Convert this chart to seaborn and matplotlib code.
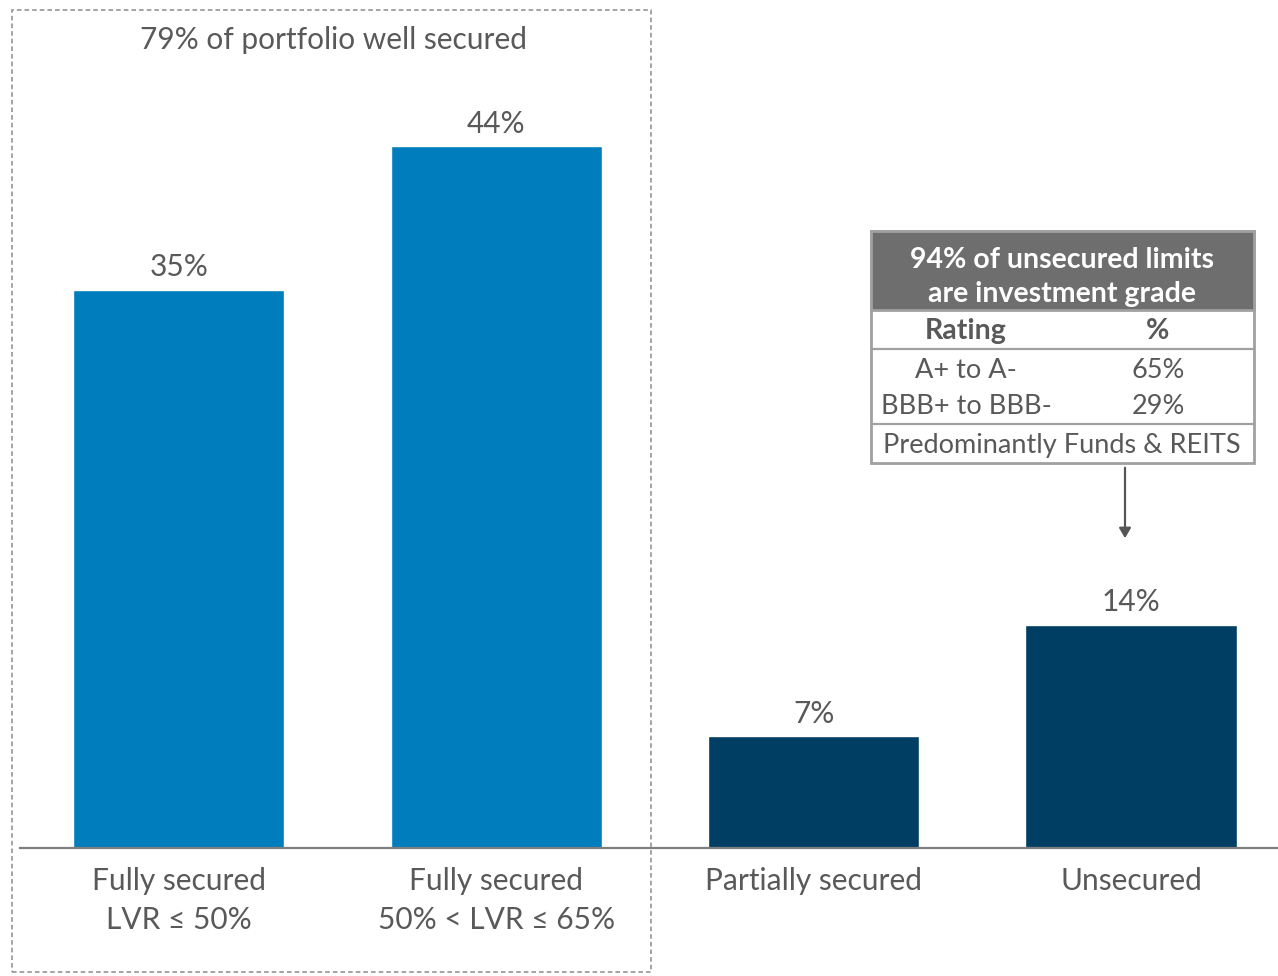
import matplotlib
matplotlib.use("Agg")
import matplotlib.pyplot as plt
import matplotlib.patches as mpatches
import seaborn as sns
import pandas as pd

categories = ["Fully secured\nLVR \u2264 50%", "Fully secured\n50% < LVR \u2264 65%",
              "Partially secured", "Unsecured"]
values = [35, 44, 7, 14]
bar_colors = ["#007dbd", "#007dbd", "#003f63", "#003f63"]

box_title = "79% of portfolio well secured"
table_header = "94% of unsecured limits\nare investment grade"
table_cols = ["Rating", "%"]
table_ratings = ["A+ to A-", "BBB+ to BBB-"]
table_pcts = ["65%", "29%"]
table_footer = "Predominantly Funds & REITS"

sns.set_theme(style="white")
plt.rcParams["font.family"] = ["Lato", "DejaVu Sans"]
text_grey = "#595959"

W, H = 1278, 976
fig = plt.figure(figsize=(W / 100, H / 100), dpi=100)
ax = fig.add_axes([20 / W, 128 / H, 1 - 20 / W, 848 / H])

df = pd.DataFrame({"cat": categories, "val": values})
sns.barplot(data=df, x="cat", y="val", hue="cat", palette=bar_colors,
            width=0.665, legend=False, ax=ax, saturation=1)
for cont in ax.containers:
    ax.bar_label(cont, fmt="%d%%", padding=6, fontsize=21.5, color=text_grey)

ax.set_xlim(-0.5, 3.463)
ax.set_ylim(0, 53.17)
ax.set_xlabel("")
ax.set_ylabel("")
ax.set_yticks([])
ax.tick_params(axis="x", length=0, pad=14, labelsize=21.5, labelcolor=text_grey)
for lbl in ax.get_xticklabels():
    lbl.set_linespacing(1.45)
for s in ["top", "right", "left"]:
    ax.spines[s].set_visible(False)
ax.spines["bottom"].set_color("#7f7f7f")
ax.spines["bottom"].set_linewidth(1.6)
ax.patch.set_alpha(0)


def px(x, y):
    return x / W, 1 - y / H


# dashed box around well-secured bars
x0, y0 = px(12, 972)
fig.add_artist(mpatches.Rectangle((x0, y0), 639 / W, 962 / H, transform=fig.transFigure,
                                  fill=False, edgecolor="#8c8c8c", linestyle=(0, (3, 2)),
                                  linewidth=1.1))
fig.text(*px(333, 40), box_title, ha="center", va="center", fontsize=21.5, color=text_grey)

# inset table
bx, by = px(871, 463)
fig.add_artist(mpatches.Rectangle((bx, by), 383 / W, 232 / H, transform=fig.transFigure,
                                  facecolor="white", edgecolor="#a0a0a0", linewidth=2))
hx, hy = px(871, 310)
fig.add_artist(mpatches.Rectangle((hx, hy), 383 / W, 79 / H, transform=fig.transFigure,
                                  facecolor="#6e6e6e", edgecolor="#a0a0a0", linewidth=2))
fig.text(*px(1062, 277), table_header, ha="center", va="center", fontsize=20.5,
         color="white", fontweight="bold", linespacing=1.38)
for yl in [349, 424]:
    fig.add_artist(plt.Line2D([871 / W, 1254 / W], [1 - yl / H] * 2,
                              transform=fig.transFigure, color="#a0a0a0", linewidth=1.6))
fig.text(*px(966, 331), table_cols[0], ha="center", va="center", fontsize=20.5,
         color=text_grey, fontweight="bold")
fig.text(*px(1158, 331), table_cols[1], ha="center", va="center", fontsize=20.5,
         color=text_grey, fontweight="bold")
for i, (r, p) in enumerate(zip(table_ratings, table_pcts)):
    yy = 370 + i * 37
    fig.text(*px(966, yy), r, ha="center", va="center", fontsize=19.5, color=text_grey)
    fig.text(*px(1158, yy), p, ha="center", va="center", fontsize=19.5, color=text_grey)
fig.text(*px(1062, 445), table_footer, ha="center", va="center", fontsize=19.5, color=text_grey)

# arrow to unsecured bar
fig.add_artist(mpatches.FancyArrowPatch(px(1125, 465), px(1125, 541), transform=fig.transFigure,
                                        arrowstyle="-|>,head_length=6,head_width=3.5",
                                        color="#555555", linewidth=1.6))

fig.savefig("out.png", dpi=100)
